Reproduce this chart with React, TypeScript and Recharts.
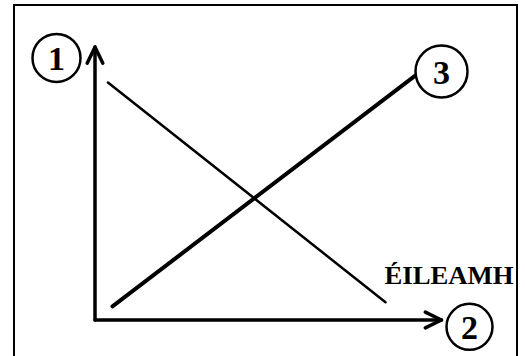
import React from "react";
import { LineChart, Line, XAxis, YAxis, ReferenceLine, ReferenceDot } from "recharts";

// quantity (q) / price (p) points
const supply = [
  { q: 0.5, p: 0.5 },
  { q: 9.15, p: 8.95 },
];
const demand = [
  { q: 0.37, p: 8.7 },
  { q: 8.3, p: 0.65 },
];
const badges = [
  { n: "1", q: -1.1, p: 9.6, r: 24 },
  { n: "2", q: 10.7, p: -0.25, r: 23 },
  { n: "3", q: 9.9, p: 9.1, r: 26 },
];
const demandLabel = "ÉILEAMH";

const FONT = "'Liberation Serif', 'Times New Roman', serif";

function Arrow(props: any) {
  const { x1, y1, x2, y2 } = props;
  const a = Math.atan2(y2 - y1, x2 - x1);
  const len = 18;
  const spread = 0.45;
  const w1x = x2 - len * Math.cos(a - spread);
  const w1y = y2 - len * Math.sin(a - spread);
  const w2x = x2 - len * Math.cos(a + spread);
  const w2y = y2 - len * Math.sin(a + spread);
  return (
    <g stroke="#000" strokeWidth={3.5} fill="none" strokeLinecap="round" strokeLinejoin="round">
      <line x1={x1} y1={y1} x2={x2} y2={y2} />
      <polyline points={`${w1x},${w1y} ${x2},${y2} ${w2x},${w2y}`} />
    </g>
  );
}

function Badge(n: string, r: number) {
  return (props: any) => (
    <g>
      <circle cx={props.cx} cy={props.cy} r={r} fill="#fff" stroke="#000" strokeWidth={2.5} />
      <text
        x={props.cx}
        y={props.cy + 12}
        textAnchor="middle"
        fontFamily={FONT}
        fontWeight="bold"
        fontSize={34}
        fill="#000"
      >
        {n}
      </text>
    </g>
  );
}

function DemandText(props: any) {
  return (
    <text
      x={props.cx - 1}
      y={props.cy - 18}
      fontFamily={FONT}
      fontWeight="bold"
      fontSize={26}
      textLength={129}
      lengthAdjust="spacingAndGlyphs"
      fill="#000"
    >
      {demandLabel}
    </text>
  );
}

export default function App() {
  const end = demand[demand.length - 1];
  return (
    <div style={{ position: "absolute", left: 0, top: 0, width: 525, height: 356, background: "#fff" }}>
      <div
        style={{
          position: "absolute",
          left: 13,
          top: 4,
          width: 501,
          height: 360,
          borderLeft: "2.5px solid #000",
          borderTop: "2.5px solid #000",
          borderRight: "2.5px solid #000",
        }}
      />
      <div style={{ position: "absolute", left: 0, top: 0 }}>
        <LineChart width={525} height={356} margin={{ top: 47, right: 80, bottom: 36, left: 95 }}>
          <XAxis type="number" dataKey="q" domain={[0, 10]} hide allowDataOverflow />
          <YAxis type="number" dataKey="p" domain={[0, 10]} hide allowDataOverflow />
          <ReferenceLine segment={[{ x: 0, y: 0 }, { x: 0, y: 10 }]} ifOverflow="visible" shape={Arrow} />
          <ReferenceLine segment={[{ x: 0, y: 0 }, { x: 9.9, y: 0 }]} ifOverflow="visible" shape={Arrow} />
          <Line
            data={demand}
            dataKey="p"
            type="linear"
            stroke="#000"
            strokeWidth={2.5}
            strokeLinecap="round"
            dot={false}
            isAnimationActive={false}
          />
          <Line
            data={supply}
            dataKey="p"
            type="linear"
            stroke="#000"
            strokeWidth={4}
            strokeLinecap="round"
            dot={false}
            isAnimationActive={false}
          />
          <ReferenceDot x={end.q} y={end.p} ifOverflow="visible" shape={DemandText} />
          {badges.map((b) => (
            <ReferenceDot key={b.n} x={b.q} y={b.p} ifOverflow="visible" shape={Badge(b.n, b.r)} />
          ))}
        </LineChart>
      </div>
    </div>
  );
}
